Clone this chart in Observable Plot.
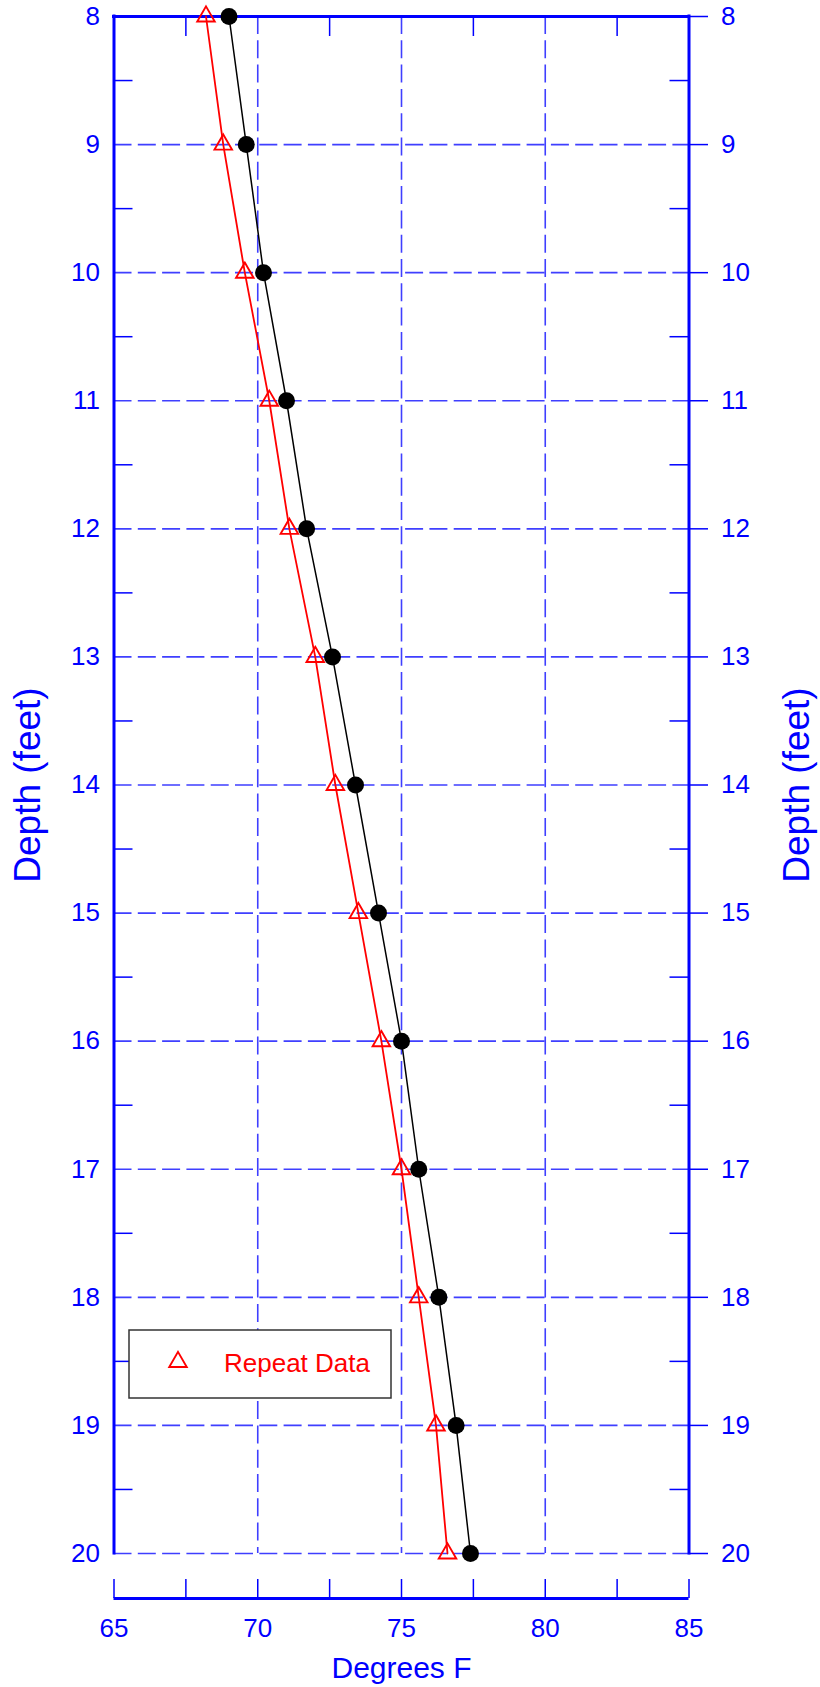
<!DOCTYPE html>
<html>
<head>
<meta charset="utf-8">
<script src="https://cdn.jsdelivr.net/npm/d3@7"></script>
<script src="https://cdn.jsdelivr.net/npm/@observablehq/plot@0.6"></script>
<style>
  html, body { margin: 0; padding: 0; background: #fff; }
</style>
</head>
<body>
<div id="chart"></div>
<script>
// ---- data ----
const depths = [8, 9, 10, 11, 12, 13, 14, 15, 16, 17, 18, 19, 20];
const baselineTemps = [69.0, 69.6, 70.2, 71.0, 71.7, 72.6, 73.4, 74.2, 75.0, 75.6, 76.3, 76.9, 77.4];
const repeatTemps = [68.2, 68.8, 69.55, 70.4, 71.1, 72.0, 72.7, 73.5, 74.3, 75.0, 75.6, 76.2, 76.6];
const depthMinor = [8.5, 9.5, 10.5, 11.5, 12.5, 13.5, 14.5, 15.5, 16.5, 17.5, 18.5, 19.5];
const tempLabels = [65, 70, 75, 80, 85];
const tempGrid = [70, 75, 80];
const tempMinor = [67.5, 72.5, 77.5, 82.5];
const tempBottomTicks = [65, 67.5, 70, 72.5, 75, 77.5, 80, 82.5, 85];
const legendLabel = "Repeat Data";
const xTitle = "Degrees F";
const yTitle = "Depth (feet)";

const rows = depths.map((d, i) => ({depth: d, base: baselineTemps[i], rep: repeatTemps[i]}));

// ---- layout ----
const W = 820, H = 1687;
const mL = 113.5, mR = 131.5, mT = 16, mB = 134;
const plotW = W - mL - mR, plotH = H - mT - mB;
const BLUE = "#0000ff";
const GRID = "#3f3fff";
const dash = "18,6.3";
const TRI_R = 6.5;

const legend = () => {
  const g = d3.create("svg:g");
  g.append("rect").attr("x", 129).attr("y", 1330).attr("width", 262).attr("height", 68)
    .attr("fill", "white").attr("stroke", "#333").attr("stroke-width", 1.5);
  g.append("path").attr("transform", "translate(178,1362)")
    .attr("d", d3.symbol(d3.symbolTriangle, TRI_R * TRI_R * Math.PI)())
    .attr("fill", "none").attr("stroke", "red").attr("stroke-width", 1.9);
  g.append("text").attr("x", 224).attr("y", 1372).attr("fill", "red")
    .attr("text-anchor", "start").attr("font-size", 26).text(legendLabel);
  return g.node();
};

const chart = Plot.plot({
  width: W,
  height: H,
  marginLeft: mL, marginRight: mR, marginTop: mT, marginBottom: mB,
  style: {fontFamily: "'Liberation Sans', Arial, Helvetica, sans-serif", background: "white", overflow: "visible"},
  x: {domain: [65, 85], axis: null},
  y: {domain: [8, 20], reverse: true, axis: null},
  marks: [
    // grid
    Plot.ruleY(depths, {y: d => d, stroke: GRID, strokeWidth: 1.6, strokeDasharray: dash}),
    Plot.ruleX(tempGrid, {x: d => d, stroke: GRID, strokeWidth: 1.6, strokeDasharray: dash}),
    // frame (left, right, top)
    Plot.ruleX([65, 85], {x: d => d, stroke: BLUE, strokeWidth: 3, strokeLinecap: "square"}),
    Plot.ruleY([8], {y: d => d, stroke: BLUE, strokeWidth: 3, strokeLinecap: "square"}),
    // minor ticks inside frame
    Plot.tickY(depthMinor, {y: d => d, stroke: BLUE, strokeWidth: 1.5, insetRight: plotW - 19}),
    Plot.tickY(depthMinor, {y: d => d, stroke: BLUE, strokeWidth: 1.5, insetLeft: plotW - 19}),
    Plot.tickY(depths, {y: d => d, stroke: BLUE, strokeWidth: 1.5, insetLeft: plotW, insetRight: -19.5}),
    Plot.tickX(tempMinor, {x: d => d, stroke: BLUE, strokeWidth: 1.5, insetBottom: plotH - 20}),
    // bottom detached axis
    Plot.ruleY([20], {y: d => d, dy: 45, stroke: BLUE, strokeWidth: 3}),
    Plot.tickX(tempBottomTicks, {x: d => d, stroke: BLUE, strokeWidth: 1.5, insetTop: plotH + 26, insetBottom: -45}),
    // tick labels
    Plot.text(depths, {y: d => d, text: d => String(d), frameAnchor: "left", textAnchor: "end", dx: -14, lineAnchor: "middle", fill: BLUE, fontSize: 26}),
    Plot.text(depths, {y: d => d, text: d => String(d), frameAnchor: "right", textAnchor: "start", dx: 32, lineAnchor: "middle", fill: BLUE, fontSize: 26}),
    Plot.text(tempLabels, {x: d => d, text: d => String(d), frameAnchor: "bottom", textAnchor: "middle", lineAnchor: "bottom", dy: 83, fill: BLUE, fontSize: 26}),
    // axis titles
    Plot.text([yTitle], {frameAnchor: "left", textAnchor: "middle", rotate: -90, dx: -74, lineAnchor: "bottom", fill: BLUE, fontSize: 37}),
    Plot.text([yTitle], {frameAnchor: "right", textAnchor: "middle", rotate: -90, dx: 119.5, lineAnchor: "bottom", fill: BLUE, fontSize: 37}),
    Plot.text([xTitle], {frameAnchor: "bottom", textAnchor: "middle", dy: 124, lineAnchor: "bottom", fill: BLUE, fontSize: 30}),
    // legend
    legend,
    // data
    Plot.line(rows, {x: "rep", y: "depth", stroke: "red", strokeWidth: 1.8}),
    Plot.dot(rows, {x: "rep", y: "depth", symbol: "triangle", r: TRI_R, stroke: "red", strokeWidth: 1.9, fill: "none"}),
    Plot.line(rows, {x: "base", y: "depth", stroke: "black", strokeWidth: 1.5}),
    Plot.dot(rows, {x: "base", y: "depth", r: 8.5, fill: "black", stroke: "none"})
  ]
});
document.getElementById("chart").appendChild(chart);
</script>
</body>
</html>
